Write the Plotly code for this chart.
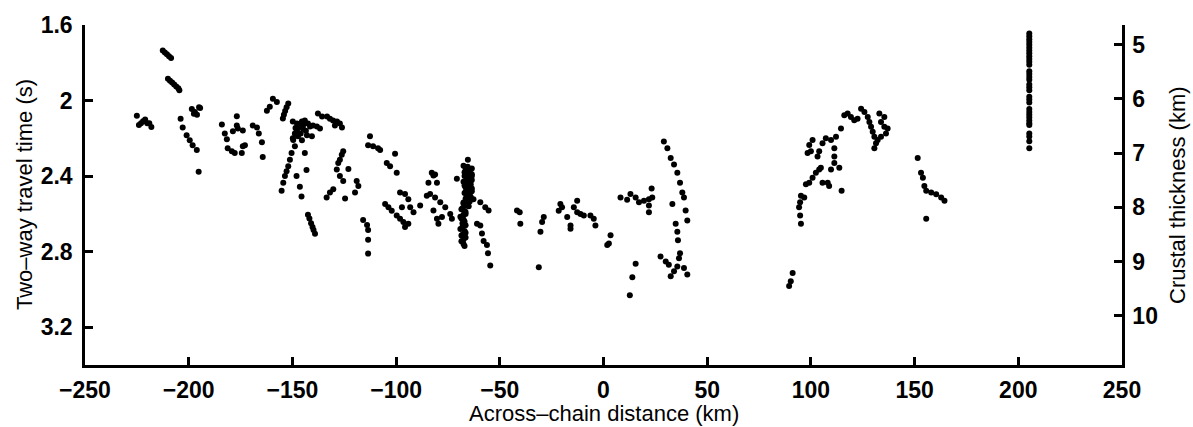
import plotly.graph_objects as go

# ---- data: across-chain distance (km) and two-way travel time (s) ----
west_x = [-225, -224, -222, -221, -220, -219, -218, -223,
          -212.5, -211.5, -210.5, -209.5, -208.5,
          -210, -209, -208, -207, -206, -205, -204.5,
          -198.5, -197, -195, -196, -197.5, -194.5,
          -203.9, -202.9, -201, -199.5, -198.1, -196.1, -195.2,
          -184, -182.6, -181.6, -181.2, -179.2, -177.8, -174.4, -178.7, -176.8, -176.3, -173.9, -172.9, -173.9, -176.8,
          -169.1, -167.1, -166.2, -164.7, -164.3,
          -162.3, -160.9, -159.4, -157.5,
          -152, -152.8, -153.5, -154.1, -154.6,
          -149.8, -147.8, -146.4, -145.4, -144, -142.5, -141.5, -140.1, -138.2, -136.7, -148.8, -147.3, -145.4, -149.8, -147.8, -144.9, -143, -140.6,
          -146.5, -143.5, -148.5, -146, -144.5,
          -149.6, -148.8, -150.4, -151.2, -152, -152.8, -153.6, -154.4, -155.2,
          -148, -146.4, -145.6, -144, -143.2,
          -142.5, -141.8, -141, -140.3, -139.8, -139.1,
          -137.7, -135.7, -133.3, -131.9, -130.4, -129.5, -128.5, -127.1, -126.1,
          -125.5, -126.2, -127.1, -127.9, -128.6, -127.1, -125.5, -123, -119, -118.2, -119.8, -124.6, -131.9, -133.5, -130.3,
          -115.9, -114, -113.5, -113.5, -113.5,
          -112.6, -113.5, -111.1, -108.7, -107.7,
          -100.5, -104.5, -102.9, -99.7,
          -105.3, -103.7, -102.1, -98.1, -95.7, -94.1, -97.2, -93.2, -99.7, -98.1, -96.5, -95.7, -94.1]
west_t = [2.08, 2.13, 2.11, 2.10, 2.12, 2.12, 2.14, 2.12,
          1.735, 1.745, 1.755, 1.765, 1.775,
          1.885, 1.895, 1.905, 1.915, 1.925, 1.935, 1.945,
          2.045, 2.06, 2.035, 2.075, 2.07, 2.04,
          2.096, 2.143, 2.184, 2.21, 2.236, 2.262, 2.377,
          2.127, 2.174, 2.205, 2.252, 2.268, 2.278, 2.278, 2.163, 2.132, 2.148, 2.158, 2.236, 2.242, 2.083,
          2.132, 2.143, 2.174, 2.221, 2.299,
          2.054, 2.033, 1.991, 2.007,
          2.015, 2.035, 2.055, 2.075, 2.095,
          2.111, 2.122, 2.132, 2.111, 2.106, 2.122, 2.137, 2.132, 2.137, 2.148, 2.174, 2.189, 2.21, 2.2, 2.158, 2.148, 2.184, 2.189,
          2.14, 2.16, 2.145, 2.175, 2.125,
          2.209, 2.242, 2.278, 2.313, 2.348, 2.374, 2.4, 2.435, 2.478,
          2.4, 2.456, 2.508, 2.278, 2.368,
          2.605, 2.625, 2.65, 2.67, 2.685, 2.705,
          2.069, 2.085, 2.085, 2.096, 2.106, 2.132, 2.111, 2.122, 2.143,
          2.269, 2.287, 2.313, 2.33, 2.365, 2.4, 2.426, 2.362, 2.426, 2.452, 2.487, 2.518, 2.487, 2.513, 2.47,
          2.633, 2.659, 2.685, 2.737, 2.81,
          2.189, 2.236, 2.242, 2.252, 2.262,
          2.282, 2.33, 2.348, 2.382,
          2.548, 2.565, 2.583, 2.487, 2.495, 2.522, 2.565, 2.565, 2.608, 2.626, 2.643, 2.669, 2.652]

mid_x = [-91.6, -88.4, -85.2, -83.6, -81.2, -78.7, -76.3, -73.9, -73.1,
         -82, -84.4, -80.3, -82.8, -81.2,
         -82, -80.3, -77.9, -79.6,
         -70.7, -65.4,
         -67.5, -65.5, -63.5, -66.5, -64.5, -63.5, -67, -65, -63.5, -67.5, -65.5, -64, -66.5, -64.5, -63.5,
         -67, -65.5, -64, -66.5, -65, -67.5, -66, -65, -68.5, -67, -66.5, -69, -67.5, -68, -66.5,
         -69, -67, -68, -66.5, -68.5, -67.5,
         -66.5, -64.5, -67, -65, -63.5, -66, -64, -67, -65.5, -63.5, -66.5, -64.5, -66, -64.5, -67.5, -66,
         -68, -66.5, -67.5, -68.5, -67, -68, -66.5, -68.5, -67.5, -67,
         -62.7, -59.4, -57, -55.4,
         -61, -59.4, -58.6, -57.8, -56.2, -55.7, -54.6,
         -41.7, -40.4, -40.1,
         -28.8, -29.6, -30.4, -31.2,
         -20.8, -21.6, -20, -17.5, -15.9, -15.9, -14.3, -12.7, -12.7, -11.1, -9.5, -6.3, -4.7, -3.9,
         3.4, 2.6, 1.8,
         15.5, 13.9, 12.7,
         8.2, 11.4, 13, 15.5, 17.1, 19.5, 21.9, 23.5, 23.2, 21.9, 21.9,
         29.1, 30.8, 32.4, 34, 35.6, 36.9, 38, 38.8, 39.6, 40.4,
         33.2, 34.8, 35.6, 35.9,
         27.5, 30, 31.5,
         36.9, 36.4, 35.6, 34, 32.4, 38.8, 40.4]
mid_t = [2.591, 2.556, 2.504, 2.495, 2.513, 2.539, 2.565, 2.6, 2.626,
         2.397, 2.435, 2.435, 2.382, 2.391,
         2.582, 2.626, 2.617, 2.652,
         2.414, 2.313,
         2.345, 2.35, 2.36, 2.37, 2.375, 2.39, 2.40, 2.41, 2.42, 2.43, 2.44, 2.445, 2.46, 2.47, 2.48,
         2.49, 2.5, 2.51, 2.52, 2.53, 2.545, 2.555, 2.56, 2.575, 2.585, 2.6, 2.615, 2.63, 2.65, 2.66,
         2.68, 2.69, 2.71, 2.725, 2.745, 2.76,
         2.355, 2.365, 2.38, 2.385, 2.4, 2.415, 2.425, 2.45, 2.455, 2.465, 2.485, 2.495, 2.505, 2.535, 2.54, 2.55,
         2.57, 2.59, 2.605, 2.625, 2.64, 2.67, 2.7, 2.715, 2.735, 2.77,
         2.522, 2.539, 2.565, 2.582,
         2.652, 2.661, 2.704, 2.744, 2.765, 2.809, 2.873,
         2.582, 2.591, 2.652,
         2.617, 2.643, 2.695, 2.882,
         2.548, 2.583, 2.565, 2.617, 2.661, 2.679, 2.565, 2.53, 2.591, 2.6, 2.608, 2.608, 2.626, 2.661,
         2.713, 2.757, 2.765,
         2.864, 2.935, 3.031,
         2.513, 2.525, 2.495, 2.513, 2.539, 2.53, 2.522, 2.513, 2.466, 2.556, 2.591,
         2.217, 2.252, 2.304, 2.339, 2.382, 2.435, 2.487, 2.513, 2.582, 2.635,
         2.548, 2.652, 2.695, 2.739,
         2.826, 2.852, 2.869,
         2.809, 2.835, 2.878, 2.904, 2.93, 2.887, 2.921]

east_x = [91.2, 90.3, 89.5,
          95.2, 94.8, 94.3, 94.8, 95.2, 96.8, 97.6, 99.2, 100.8, 102.4, 104, 104.8,
          98.4, 100, 99.2, 100.8, 103.2, 104,
          105.6, 107.2, 109.7, 112.1, 114.5,
          105.6, 108.1, 108.8, 111.3, 111.3, 109.7, 111.3, 113.7, 114.8,
          116.1, 117.7, 119.3, 120.9, 122.5, 124.2, 125.8, 127.4, 128.2, 129, 129.8, 130.6, 131.4, 130.6,
          133, 135.4, 133.8, 135.4, 137, 136.2, 133.8, 132.2,
          151.5, 153.1, 154, 154.7, 155.6, 158, 160.4, 162.8, 164.4, 155.6]
east_t = [2.913, 2.956, 2.982,
          2.652, 2.608, 2.565, 2.539, 2.504, 2.513, 2.443, 2.435, 2.409, 2.382, 2.365, 2.356,
          2.278, 2.269, 2.235, 2.209, 2.296, 2.269,
          2.226, 2.2, 2.209, 2.191, 2.148,
          2.435, 2.435, 2.452, 2.296, 2.252, 2.365, 2.33, 2.356, 2.478,
          2.078, 2.069, 2.087, 2.104, 2.096, 2.043, 2.061, 2.087, 2.113, 2.139, 2.165, 2.191, 2.226, 2.252,
          2.069, 2.087, 2.113, 2.139, 2.148, 2.174, 2.191, 2.209,
          2.304, 2.382, 2.409, 2.452, 2.478, 2.487, 2.496, 2.513, 2.53, 2.626]

far_x = [205.3] * 33
far_t = [1.645, 1.66, 1.675, 1.69, 1.705, 1.72, 1.735, 1.75, 1.765, 1.78, 1.795, 1.81,
         1.845, 1.86, 1.875, 1.89, 1.915, 1.93, 1.945, 1.98, 1.995, 2.01,
         2.045, 2.06, 2.075, 2.09, 2.105, 2.12, 2.13, 2.175, 2.19, 2.215, 2.252]

x_ticks = [-250, -200, -150, -100, -50, 0, 50, 100, 150, 200, 250]
twt_ticks = [1.6, 2, 2.4, 2.8, 3.2]
twt_labels = ["1.6", "2", "2.4", "2.8", "3.2"]
thick_ticks = [5, 6, 7, 8, 9, 10]

distance = west_x + mid_x + east_x + far_x
twt = west_t + mid_t + east_t + far_t

FONT = "Liberation Sans, Arial, Helvetica, sans-serif"

fig = go.Figure()
fig.add_trace(go.Scatter(x=distance, y=twt, mode="markers",
                         marker=dict(color="black", size=6, line=dict(width=0)),
                         showlegend=False, hoverinfo="x+y"))
# invisible trace so the right-hand crustal-thickness axis is drawn
fig.add_trace(go.Scatter(x=[None], y=[None], yaxis="y2", mode="markers",
                         showlegend=False, hoverinfo="skip"))

axis_common = dict(showgrid=False, zeroline=False, showline=True, linecolor="black",
                   linewidth=2.5, ticks="inside", ticklen=8, tickwidth=2.5, tickcolor="black",
                   tickfont=dict(family=FONT, size=23, color="black", weight="bold"))

fig.update_layout(
    width=1193, height=427,
    margin=dict(l=85, r=71, t=20, b=62),
    paper_bgcolor="white", plot_bgcolor="white",
    font=dict(family=FONT, color="black"),
    xaxis=dict(range=[-250, 250], tickvals=x_ticks, ticklabelstandoff=3, **axis_common),
    yaxis=dict(range=[3.4, 1.6], tickvals=twt_ticks, ticktext=twt_labels,
               ticklabelstandoff=5, **axis_common),
    yaxis2=dict(range=[10.909, 4.636], overlaying="y", side="right", tickvals=thick_ticks,
                ticklabelstandoff=3, **axis_common),
    annotations=[
        dict(text="Across–chain distance (km)", x=0.5, y=0, xref="paper", yref="paper",
             xanchor="center", yanchor="middle", yshift=-48, showarrow=False,
             font=dict(family=FONT, size=22, color="black")),
        dict(text="Two–way travel time (s)", x=0, y=0.5, xref="paper", yref="paper",
             xanchor="center", yanchor="middle", xshift=-61, textangle=-90, showarrow=False,
             font=dict(family=FONT, size=22, color="black")),
        dict(text="Crustal thickness (km)", x=1, y=0.5, xref="paper", yref="paper",
             xanchor="center", yanchor="middle", xshift=55, textangle=-90, showarrow=False,
             font=dict(family=FONT, size=22, color="black")),
    ],
)

fig.write_html("out.html", config={"displayModeBar": False},
               post_script="document.body.style.margin='0';")
